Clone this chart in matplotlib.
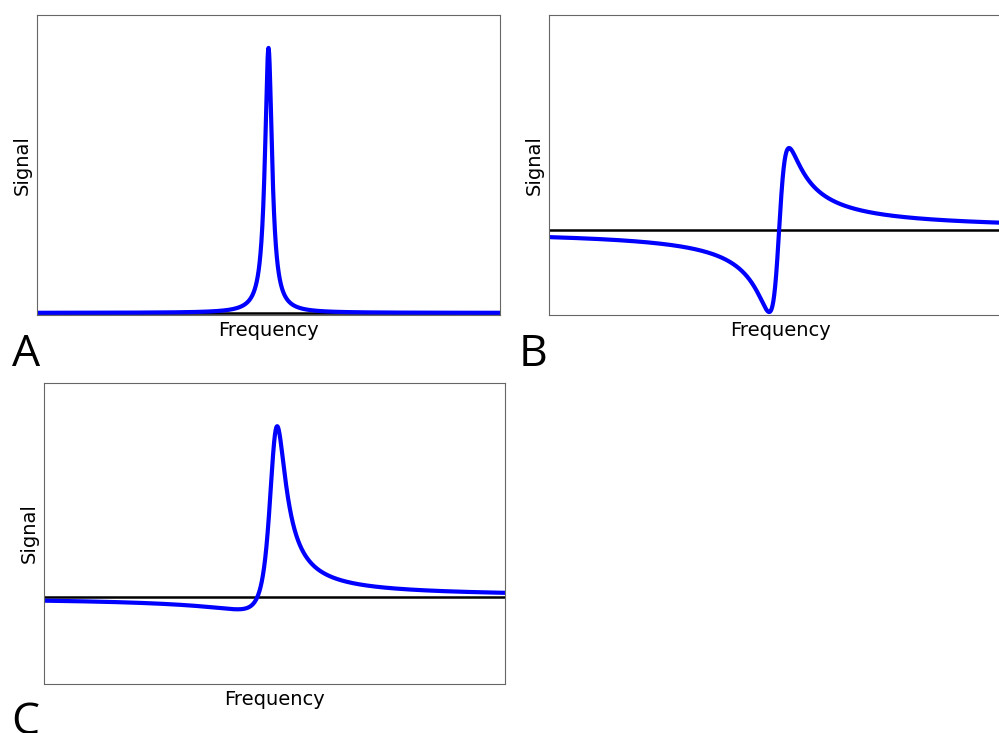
import numpy as np
import matplotlib
matplotlib.use('Agg')
import matplotlib.pyplot as plt

# Lineshape parameters (frequency axis runs -1..1)
panels = ['A', 'B', 'C']
centers = [0.0, -0.006, 0.0]       # line position
widths = [0.0186, 0.043, 0.043]    # half width at half maximum
phases_deg = [0, 90, 30]           # 0 = absorption, 90 = dispersion
y_limits = [(-0.008, 1.124), (-0.518, 1.311), (-0.475, 1.169)]

# Axes placement in pixels: left, top, width, height
boxes_px = [(37, 15, 463, 300), (549, 15, 463, 300), (44, 383, 461, 301)]
letter_px = [(12, 366), (519, 366), (11, 734)]

W, H = 999, 733
fig = plt.figure(figsize=(W / 100, H / 100), dpi=100)

freq = np.linspace(-1, 1, 4000)

for name, x0, g, ph, ylim, box, lp in zip(panels, centers, widths, phases_deg,
                                          y_limits, boxes_px, letter_px):
    left, top, w, h = box
    ax = fig.add_axes([left / W, (H - top - h) / H, w / W, h / H])
    u = (freq - x0) / g
    absorption = 1 / (1 + u ** 2)
    dispersion = u / (1 + u ** 2)
    phi = np.deg2rad(ph)
    signal = np.cos(phi) * absorption + np.sin(phi) * dispersion

    ax.axhline(0, color='black', lw=1.8, zorder=1)
    ax.plot(freq, signal, color='blue', lw=3, zorder=2)
    ax.set_xlim(-1, 1)
    ax.set_ylim(*ylim)
    ax.set_xticks([])
    ax.set_yticks([])
    for s in ax.spines.values():
        s.set_color('0.4')
    ax.set_xlabel('Frequency', fontsize=14)
    ax.set_ylabel('Signal', fontsize=14)

    # panel letter
    fig.text(lp[0] / W, (H - lp[1]) / H, name, fontsize=32,
             family='Open Sans', ha='left', va='baseline')

fig.savefig('out.png', dpi=100)
